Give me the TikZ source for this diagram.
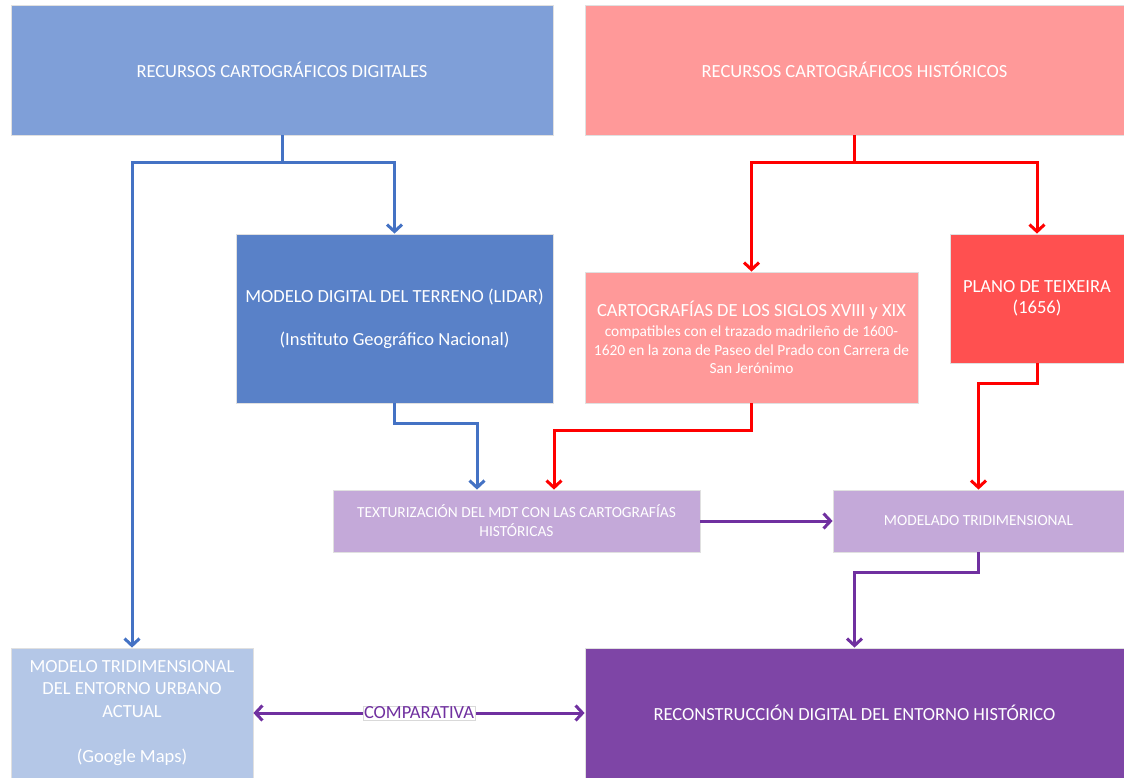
\documentclass[tikz,border=0pt]{standalone}
\usepackage{fontspec}
\setmainfont{Carlito}
\usetikzlibrary{arrows.meta}
\definecolor{digblue}{HTML}{7F9FD8}
\definecolor{mdtblue}{HTML}{5981C8}
\definecolor{actblue}{HTML}{B4C7E7}
\definecolor{hispink}{HTML}{FF9999}
\definecolor{teixred}{HTML}{FF5050}
\definecolor{lilac}{HTML}{C4A9D9}
\definecolor{recpurple}{HTML}{7E45A6}
\definecolor{lineblue}{HTML}{4472C4}
\definecolor{linered}{HTML}{FF0000}
\definecolor{linepurple}{HTML}{7030A0}
\def\smalltxt{\fontsize{15.4}{18.5}\selectfont}
\begin{document}
\begin{tikzpicture}[x=1pt, y=-1pt, >={Straight Barb[length=7pt,width=15pt]},
        box/.style={draw=black!12, line width=0.8pt, text=white, align=center, inner sep=0pt, font=\fontsize{18.5}{21}\selectfont},
        link/.style={line width=3pt, ->}]
    \useasboundingbox (0,0) rectangle (1124,778);
    % top row
    \node[box, fill=digblue, minimum width=542, minimum height=130] (digital) at (282,70) {RECURSOS CARTOGRÁFICOS DIGITALES};
    \node[box, fill=hispink, minimum width=539, minimum height=130] (historic) at (854.5,70) {RECURSOS CARTOGRÁFICOS HISTÓRICOS};
    % sources
    \node[box, fill=mdtblue, minimum width=317, minimum height=169] (mdt) at (394.5,318.5) {MODELO DIGITAL DEL TERRENO (LIDAR)\\[22pt](Instituto Geográfico Nacional)};
    \node[box, fill=hispink, minimum width=333, minimum height=131] (cart) at (751.5,337.5) {\rule{0pt}{21pt}CARTOGRAFÍAS DE LOS SIGLOS XVIII y XIX\\[3pt]
        \smalltxt\begin{tabular}{@{}c@{}}compatibles con el trazado madrileño de 1600-\\1620 en la zona de Paseo del Prado con Carrera de\\San Jerónimo\end{tabular}};
    \node[box, fill=teixred, minimum width=174, minimum height=129] (teix) at (1037,298.5) {PLANO DE TEIXEIRA\\(1656)};
    % processing
    \node[box, fill=lilac, minimum width=367, minimum height=62, font=\fontsize{15.4}{19}\selectfont] (textur) at (516.5,521) {TEXTURIZACIÓN DEL MDT CON LAS CARTOGRAFÍAS\\HISTÓRICAS};
    \node[box, fill=lilac, minimum width=291, minimum height=62, font=\fontsize{15.4}{19}\selectfont] (modelado) at (978.5,521) {MODELADO TRIDIMENSIONAL};
    % results
    \node[box, fill=actblue, minimum width=242, minimum height=130, font=\fontsize{18.5}{22.5}\selectfont] (actual) at (132,713) {MODELO TRIDIMENSIONAL\\DEL ENTORNO URBANO\\ACTUAL\\[22.5pt](Google Maps)};
    \node[box, fill=recpurple, minimum width=539, minimum height=130] (recon) at (854.5,713) {RECONSTRUCCIÓN DIGITAL DEL ENTORNO HISTÓRICO};

    \draw[line width=3pt, lineblue] (digital.south) -- ++(0,27) coordinate (dsplit);
    \draw[link, lineblue] (dsplit) -| (actual.north);
    \draw[link, lineblue] (dsplit) -| (mdt.north);
    \draw[line width=3pt, linered] (historic.south) -- ++(0,27) coordinate (hsplit);
    \draw[link, linered] (hsplit) -| (cart.north);
    \draw[link, linered] (hsplit) -| (teix.north);
    \draw[link, lineblue] (mdt.south) -- ++(0,20) -| ([xshift=-39.5]textur.north);
    \draw[link, linered] (cart.south) -- ++(0,27) -| ([xshift=37.5]textur.north);
    \draw[link, linered] (teix.south) -- ++(0,20) -| (modelado.north);
    \draw[link, linepurple] (textur.east) -- (modelado.west);
    \draw[link, linepurple] (modelado.south) -- ++(0,20) -| (recon.north);
    \draw[link, linepurple, <->] (actual.east) -- (recon.west)
        node[midway, fill=white, draw=black!15, line width=0.5pt, inner sep=1pt, text=linepurple, font=\fontsize{18.5}{21}\selectfont] (comp) {COMPARATIVA};
\end{tikzpicture}
\end{document}
